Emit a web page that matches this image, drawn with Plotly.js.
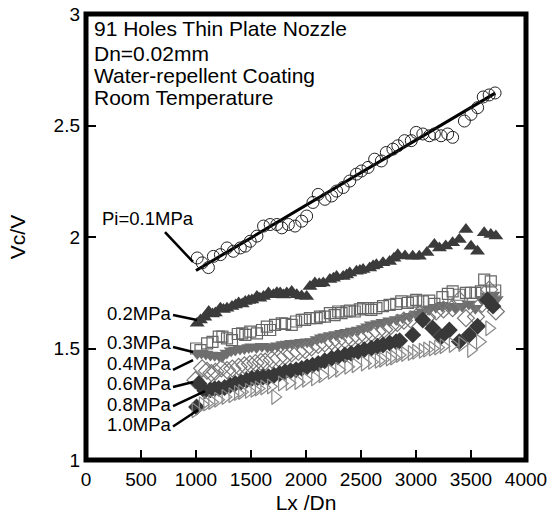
<!DOCTYPE html>
<html><head><meta charset="utf-8">
<script src="https://cdn.plot.ly/plotly-3.0.1.min.js"></script>
<style>html,body{margin:0;padding:0;background:#fff}#chart{width:556px;height:528px}</style>
</head><body><div id="chart"></div>
<script>
// ---- data ----
const x01 = [1011,1056,1113,1158,1222,1282,1339,1403,1448,1493,1554,1614,1674,1735,1780,1840,1900,1961,2006,2063,2111,2172,2233,2278,2338,2398,2459,2504,2564,2624,2685,2730,2790,2835,2896,2957,3002,3062,3122,3167,3228,3288,3333,3440,3500,3560,3611,3665,3719];
const y01 = [1.906,1.884,1.863,1.913,1.921,1.951,1.936,1.951,1.959,1.981,2.004,2.049,2.056,2.056,2.041,2.056,2.049,2.071,2.094,2.155,2.191,2.169,2.184,2.206,2.222,2.251,2.282,2.296,2.312,2.349,2.341,2.379,2.394,2.409,2.432,2.432,2.469,2.462,2.454,2.462,2.454,2.462,2.447,2.52,2.55,2.58,2.628,2.637,2.646];
const fitX = [1000,3720];
const fitY = [1.85,2.645];

const x02 = [1011,1041,1080,1116,1150,1176,1222,1250,1282,1327,1360,1388,1420,1448,1480,1508,1554,1580,1614,1659,1704,1735,1765,1795,1825,1870,1916,1960,2006,2036,2081,2120,2157,2217,2250,2278,2338,2370,2398,2459,2490,2519,2579,2610,2640,2700,2760,2800,2835,2900,2970,3030,3100,3167,3213,3270,3333,3394,3454,3500,3559,3620,3680,3726];
const y02 = [1.613,1.628,1.64,1.666,1.655,1.659,1.681,1.675,1.681,1.688,1.695,1.704,1.70,1.711,1.715,1.718,1.733,1.725,1.733,1.749,1.741,1.75,1.749,1.74,1.749,1.756,1.741,1.735,1.733,1.778,1.794,1.79,1.794,1.809,1.815,1.823,1.823,1.83,1.839,1.846,1.85,1.854,1.861,1.87,1.876,1.885,1.89,1.905,1.92,1.915,1.914,1.914,1.93,1.966,1.951,1.96,1.974,1.989,2.034,1.959,1.936,2.019,2.011,2.004];

const x03 = [1001,1041,1101,1150,1207,1240,1282,1327,1380,1420,1448,1493,1554,1600,1644,1674,1719,1780,1810,1870,1910,1961,1991,2036,2097,2127,2172,2217,2260,2293,2323,2368,2400,2443,2490,2519,2564,2594,2640,2700,2760,2820,2866,2926,2970,3002,3062,3120,3167,3240,3290,3333,3394,3454,3500,3540,3590,3620,3680,3720];
const y03 = [1.50,1.493,1.523,1.53,1.553,1.553,1.545,1.538,1.565,1.568,1.561,1.576,1.568,1.583,1.598,1.583,1.606,1.613,1.61,1.606,1.621,1.628,1.628,1.636,1.636,1.643,1.643,1.659,1.65,1.666,1.659,1.666,1.67,1.666,1.675,1.681,1.681,1.673,1.681,1.69,1.696,1.70,1.711,1.704,1.71,1.718,1.711,1.715,1.70,1.73,1.745,1.756,1.741,1.749,1.75,1.749,1.756,1.809,1.801,1.76];

const x04 = [1011,1050,1090,1131,1170,1210,1237,1280,1320,1357,1400,1440,1480,1508,1550,1600,1650,1690,1740,1790,1830,1870,1920,1960,2010,2051,2100,2140,2172,2220,2270,2323,2370,2420,2474,2520,2560,2594,2650,2700,2760,2820,2880,2940,3000,3060,3120,3180,3240,3300,3360,3420,3480,3540,3600,3650,3700,3730];
const y04 = [1.478,1.48,1.475,1.471,1.47,1.468,1.463,1.48,1.49,1.493,1.498,1.50,1.505,1.508,1.505,1.51,1.507,1.508,1.512,1.518,1.52,1.523,1.525,1.528,1.53,1.531,1.54,1.548,1.553,1.558,1.563,1.568,1.573,1.578,1.583,1.59,1.598,1.606,1.612,1.618,1.625,1.63,1.638,1.645,1.655,1.665,1.675,1.685,1.69,1.69,1.68,1.69,1.70,1.68,1.72,1.735,1.74,1.72];

const x06 = [995,1056,1100,1140,1176,1230,1282,1330,1388,1440,1490,1540,1590,1629,1690,1750,1810,1870,1930,1991,2050,2111,2170,2233,2290,2353,2410,2474,2530,2594,2650,2710,2770,2830,2890,2950,3032,3100,3183,3250,3333,3394,3454,3545,3600,3665,3726];
const y06 = [1.358,1.411,1.40,1.39,1.396,1.41,1.403,1.41,1.418,1.425,1.43,1.435,1.44,1.441,1.45,1.456,1.465,1.478,1.485,1.493,1.505,1.516,1.523,1.531,1.535,1.538,1.545,1.553,1.56,1.568,1.575,1.585,1.60,1.615,1.625,1.63,1.655,1.64,1.666,1.675,1.681,1.718,1.636,1.643,1.70,1.764,1.666];

const x08 = [1005,1026,1080,1130,1170,1207,1260,1310,1357,1410,1460,1508,1560,1610,1659,1710,1760,1810,1860,1910,1961,2010,2060,2111,2170,2233,2290,2353,2410,2474,2530,2594,2650,2700,2760,2820,2851,2971,3062,3152,3228,3303,3394,3484,3560,3650,3700];
const y08 = [1.238,1.343,1.31,1.315,1.32,1.321,1.325,1.335,1.343,1.35,1.358,1.366,1.37,1.372,1.373,1.38,1.388,1.396,1.40,1.405,1.411,1.418,1.425,1.433,1.445,1.456,1.463,1.471,1.478,1.486,1.495,1.501,1.51,1.516,1.525,1.53,1.535,1.561,1.628,1.591,1.553,1.583,1.531,1.561,1.60,1.718,1.69];

const x10 = [995,1060,1100,1146,1200,1267,1330,1380,1418,1480,1530,1569,1620,1680,1719,1780,1850,1930,2000,2081,2150,2233,2300,2383,2450,2534,2600,2660,2700,2760,2800,2851,2900,2960,3000,3060,3100,3152,3200,3250,3333,3420,3500,3580,3665];
const y10 = [1.223,1.25,1.253,1.26,1.27,1.283,1.29,1.30,1.305,1.31,1.315,1.321,1.325,1.33,1.283,1.343,1.345,1.35,1.36,1.366,1.38,1.396,1.405,1.418,1.425,1.433,1.44,1.445,1.45,1.455,1.46,1.471,1.475,1.48,1.485,1.49,1.495,1.50,1.505,1.51,1.516,1.52,1.493,1.53,1.591];

const xTicks = [0,500,1000,1500,2000,2500,3000,3500,4000];
const yTicks = [1,1.5,2,2.5,3];
const yTickText = ["1","1.5","2","2.5","3"];

const noteLines = ["91 Holes Thin Plate Nozzle","Dn=0.02mm","Water-repellent Coating","Room Temperature"];
const noteY = [2.933,2.821,2.722,2.626];

const seriesLabels = ["Pi=0.1MPa","0.2MPa","0.3MPa","0.4MPa","0.6MPa","0.8MPa","1.0MPa"];
const labelX = [991,782,782,782,782,782,782];
const labelY = [2.081,1.659,1.527,1.435,1.343,1.251,1.159];
// leader lines: start (near label) -> end (near data)
const leadX0 = [718,791,791,791,791,791,791];
const leadY0 = [2.022,1.650,1.507,1.404,1.327,1.242,1.150];
const leadX1 = [973,1009,973,973,973,1082,1018];
const leadY1 = [1.888,1.628,1.484,1.448,1.350,1.309,1.224];

// ---- traces ----
const F = '"Liberation Sans", Arial, sans-serif';
const traces = [
  {x:fitX, y:fitY, mode:'lines', line:{color:'#000', width:3}, hoverinfo:'skip'},
  {x:x01, y:y01, mode:'markers', name:'0.1MPa',
   marker:{symbol:'circle-open', size:12, color:'#222', line:{width:1, color:'#222'}}},
  {x:x02, y:y02, mode:'markers', name:'0.2MPa',
   marker:{symbol:'triangle-up', size:13, color:'#3b3b3b', line:{width:0}}},
  {x:x03, y:y03, mode:'markers', name:'0.3MPa',
   marker:{symbol:'square-open', size:11, color:'#666', line:{width:1.2, color:'#666'}}},
  {x:x04, y:y04, mode:'markers', name:'0.4MPa',
   marker:{symbol:'triangle-down', size:13, color:'#6e6e6e', line:{width:0}}},
  {x:x06, y:y06, mode:'markers', name:'0.6MPa',
   marker:{symbol:'diamond-open', size:13, color:'#777', line:{width:1.2, color:'#777'}}},
  {x:x08, y:y08, mode:'markers', name:'0.8MPa',
   marker:{symbol:'diamond', size:13, color:'#383838', line:{width:0}}},
  {x:x10, y:y10, mode:'markers', name:'1.0MPa',
   marker:{symbol:'triangle-right-open', size:13, color:'#8a8a8a', line:{width:1.2, color:'#8a8a8a'}}}
];

const annotations = [];
noteLines.forEach((t,i)=>annotations.push({x:55, y:noteY[i], xref:'x', yref:'y', text:t, showarrow:false,
  xanchor:'left', yanchor:'middle', font:{family:F, size:21, color:'#000'}}));
seriesLabels.forEach((t,i)=>annotations.push({x:labelX[i], y:labelY[i], xref:'x', yref:'y', text:t, showarrow:false,
  xanchor:'right', yanchor:'middle', borderpad:0, font:{family:F, size:18.5, color:'#000'}}));

const shapes = [{type:'rect', xref:'paper', yref:'paper', x0:0, x1:1, y0:0, y1:1, line:{color:'#000', width:5}}];
seriesLabels.forEach((t,i)=>shapes.push({type:'line', xref:'x', yref:'y', x0:leadX0[i], y0:leadY0[i], x1:leadX1[i], y1:leadY1[i],
  line:{color:'#000', width:2.5}}));

const layout = {
  width:556, height:528,
  margin:{l:86, r:30, t:14, b:68},
  paper_bgcolor:'#fff', plot_bgcolor:'#fff',
  showlegend:false,
  font:{family:F, color:'#000'},
  xaxis:{range:[0,4000], tickvals:xTicks, ticks:'inside', ticklen:10, tickwidth:2, tickcolor:'#000',
    ticklabelstandoff:6,
    showgrid:false, zeroline:false, showline:false, tickfont:{family:F, size:19, color:'#000'},
    title:{text:'Lx /Dn', font:{family:F, size:21, color:'#000'}, standoff:6}},
  yaxis:{range:[1,3], tickvals:yTicks, ticktext:yTickText, ticks:'inside', ticklen:10, tickwidth:2, tickcolor:'#000',
    ticklabelstandoff:5,
    mirror:'ticks', showgrid:false, zeroline:false, showline:false, tickfont:{family:F, size:19, color:'#000'},
    title:{text:'Vc/V', font:{family:F, size:21, color:'#000'}, standoff:22}},
  annotations:annotations,
  shapes:shapes
};
Plotly.newPlot('chart', traces, layout, {displayModeBar:false, staticPlot:true});
</script></body></html>
